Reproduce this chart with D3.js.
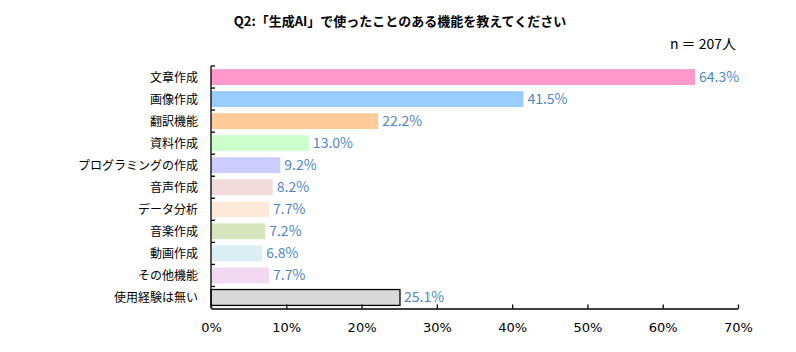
<!DOCTYPE html>
<html>
<head>
<meta charset="utf-8">
<script src="https://cdn.jsdelivr.net/npm/d3@7"></script>
<style>
  body { margin: 0; background: #fff; }
  svg { display: block; font-family: "Noto Sans CJK JP", "Noto Sans", sans-serif; }
</style>
</head>
<body>
<svg id="chart" width="796" height="352"></svg>
<script>
// data
var categories = ["文章作成", "画像作成", "翻訳機能", "資料作成", "プログラミングの作成",
    "音声作成", "データ分析", "音楽作成", "動画作成", "その他機能", "使用経験は無い"];
var values = [64.3, 41.5, 22.2, 13.0, 9.2, 8.2, 7.7, 7.2, 6.8, 7.7, 25.1];
var barColors = ["#FF99CC", "#99CCFF", "#FFCC99", "#CCFFCC", "#CCCCFF",
    "#F2DCDB", "#FDE9D9", "#D7E4BD", "#DBEEF4", "#F2D9F2", "#D9D9D9"];
var xTicks = [0, 10, 20, 30, 40, 50, 60, 70];

var title = "Q2:「生成AI」で使ったことのある機能を教えてください";
var sampleNote = "n ＝ 207人";

var svg = d3.select("#chart");

var plotLeft = 211, plotRight = 738, plotTop = 66, plotBottom = 308.5;

var x = d3.scaleLinear().domain([0, 70]).range([plotLeft, plotRight]);
var y = d3.scaleBand().domain(categories).range([plotTop, plotBottom]).paddingInner(0.28).paddingOuter(0.14);

svg.append("text")
    .attr("x", 400).attr("y", 26)
    .attr("text-anchor", "middle")
    .style("font-size", "13px").style("font-weight", "bold")
    .text(title);

svg.append("text")
    .attr("x", 736).attr("y", 49)
    .attr("text-anchor", "end")
    .style("font-size", "14px")
    .text(sampleNote);

// bars
svg.append("g").selectAll("rect")
    .data(values)
    .enter().append("rect")
    .attr("x", x(0))
    .attr("y", function(d, i) { return y(categories[i]); })
    .attr("width", function(d) { return x(d) - x(0); })
    .attr("height", y.bandwidth())
    .attr("fill", function(d, i) { return barColors[i]; })
    .attr("stroke", function(d, i) { return i == categories.length - 1 ? "#000" : "none"; })
    .attr("stroke-width", 1.3);

// value labels
svg.append("g").selectAll("text")
    .data(values)
    .enter().append("text")
    .attr("x", function(d) { return x(d) + 4; })
    .attr("y", function(d, i) { return y(categories[i]) + y.bandwidth() / 2 + 5; })
    .style("font-size", "14px")
    .style("fill", "#4F86C6")
    .text(function(d) { return d.toFixed(1) + "%"; });

// y axis: line with ticks pointing inward at band boundaries
var yAxis = svg.append("g");
yAxis.append("line")
    .attr("x1", plotLeft).attr("x2", plotLeft).attr("y1", plotTop).attr("y2", plotBottom)
    .attr("stroke", "#000").attr("stroke-width", 1.3);
var step = (plotBottom - plotTop) / categories.length;
yAxis.selectAll("line.tick")
    .data(d3.range(categories.length))
    .enter().append("line")
    .attr("class", "tick")
    .attr("x1", plotLeft).attr("x2", plotLeft + 4)
    .attr("y1", function(i) { return plotTop + i * step; })
    .attr("y2", function(i) { return plotTop + i * step; })
    .attr("stroke", "#000").attr("stroke-width", 1.3);
yAxis.selectAll("text")
    .data(categories)
    .enter().append("text")
    .attr("x", 198)
    .attr("y", function(d) { return y(d) + y.bandwidth() / 2 + 4.5; })
    .attr("text-anchor", "end")
    .style("font-size", "12px")
    .text(function(d) { return d; });

// x axis
var xAxis = svg.append("g")
    .attr("transform", "translate(0," + plotBottom + ")")
    .call(d3.axisBottom(x).tickValues(xTicks).tickSizeInner(-4).tickSizeOuter(0)
        .tickPadding(14).tickFormat(function(d) { return d + "%"; }));
xAxis.select(".domain").attr("stroke-width", 1.3);
xAxis.selectAll(".tick line").attr("stroke-width", 1.3);
xAxis.selectAll(".tick text")
    .style("font-size", "13px")
    .style("font-family", "'DejaVu Sans', sans-serif")
    .attr("fill", "#000");
</script>
</body>
</html>
